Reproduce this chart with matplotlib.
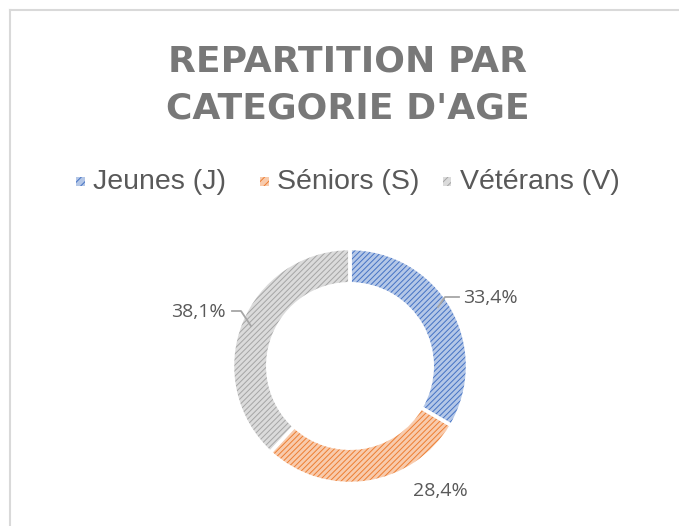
import matplotlib
matplotlib.use("Agg")
import matplotlib.pyplot as plt
from matplotlib.patches import Rectangle
from matplotlib.lines import Line2D

categories = ["Jeunes (J)", "Séniors (S)", "Vétérans (V)"]
values = [33.4, 28.4, 38.1]
labels = ["33,4%", "28,4%", "38,1%"]
title = "REPARTITION PAR\nCATEGORIE D'AGE"

face_colors = ["#B4C7E7", "#F8CBAD", "#DBDBDB"]
hatch_colors = ["#4472C4", "#ED7D31", "#A5A5A5"]

W, H = 679, 526
plt.rcParams["hatch.linewidth"] = 0.7
fig = plt.figure(figsize=(W / 100, H / 100), dpi=100)
fig.patch.set_facecolor("white")

def fx(px):
    return px / W

def fy(py):
    return 1 - py / H

# border
fig.add_artist(Line2D([fx(10), fx(10)], [fy(10), fy(530)], color="#D9D9D9", lw=1.5))
fig.add_artist(Line2D([fx(10), fx(690)], [fy(10), fy(10)], color="#D9D9D9", lw=1.5))

# title
fig.text(fx(348), fy(85), title, ha="center", va="center", fontsize=26,
         fontweight="bold", family="DejaVu Sans", color="#787878", linespacing=1.5)

# pie axes
cx, cy, R = 350, 366, 117.5
half = 135
ax = fig.add_axes([fx(cx - half), fy(cy + half), 2 * half / W, 2 * half / H])

wedges, _ = ax.pie(values, startangle=90, counterclock=False, radius=1,
                   colors=face_colors, wedgeprops=dict(width=0.3, linewidth=0))
for w, hc in zip(wedges, hatch_colors):
    w.set_hatch("//////")
    w.set_edgecolor(hc)
    w.set_linewidth(0)
# white separators on top
ax.pie(values, startangle=90, counterclock=False, radius=1,
       colors=["none"] * 3,
       wedgeprops=dict(width=0.3, linewidth=2.5, edgecolor="white"))

lim = half / R
ax.set_xlim(-lim, lim)
ax.set_ylim(-lim, lim)
ax.set_aspect("equal")
ax.axis("off")

def d(px, py):
    return ((px - cx) / R, (cy - py) / R)

lab_font = dict(fontsize=14, family="Open Sans", color="#595959")
# 33,4%
x0, y0 = d(463, 298)
ax.text(x0, y0, labels[0], ha="left", va="center", **lab_font)
xs, ys = zip(d(438, 307), d(445, 297), d(459, 297))
ax.plot(xs, ys, color="#A6A6A6", lw=1.3)
# 38,1%
x0, y0 = d(226, 312)
ax.text(x0, y0, labels[2], ha="right", va="center", **lab_font)
xs, ys = zip(d(232, 311), d(241, 311), d(251, 326))
ax.plot(xs, ys, color="#A6A6A6", lw=1.3)
# 28,4%
x0, y0 = d(440, 491)
ax.text(x0, y0, labels[1], ha="center", va="center", **lab_font)

# legend
leg_marker_x = [80, 264, 447]
for mx, cat, fc, hc in zip(leg_marker_x, categories, face_colors, hatch_colors):
    r = Rectangle((fx(mx - 4.5), fy(185.5)), 9 / W, 9 / H, transform=fig.transFigure,
                  facecolor=fc, edgecolor=hc, hatch="////", linewidth=0)
    fig.add_artist(r)
    fig.text(fx(mx + 13), fy(182), cat, ha="left", va="center", fontsize=20.5,
             family="Liberation Sans", color="#595959")

fig.savefig("out.png", dpi=100)
